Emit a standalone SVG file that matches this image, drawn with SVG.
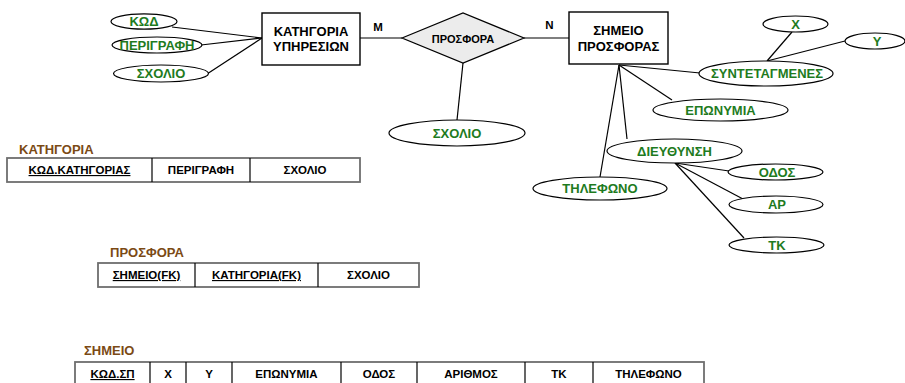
<svg xmlns="http://www.w3.org/2000/svg" width="905" height="383" viewBox="0 0 905 383">
<style>
text{font-family:"Liberation Sans",Arial,sans-serif;font-weight:bold;text-anchor:middle}
.ent{fill:#fff;stroke:#000;stroke-width:1.4}
.att{fill:#fff;stroke:#000;stroke-width:1.2}
.at{fill:#1e7b1e;font-size:13px}
.et{fill:#000;font-size:13px}
.ln{stroke:#000;stroke-width:1.2;fill:none}
.tb{fill:#fff;stroke:#6e6e6e;stroke-width:1.8}
.dv{stroke:#000;stroke-width:1.2}
.tt{fill:#000;font-size:11.5px}
.u{text-decoration:underline}
.hd{fill:#7b4a15;font-size:13px;text-anchor:start}
</style>
<g id="connectors">
<line class="ln" x1="172" y1="27" x2="262" y2="38"/>
<line class="ln" x1="201" y1="45" x2="262" y2="38"/>
<line class="ln" x1="207" y1="74" x2="262" y2="38"/>
<line class="ln" x1="360" y1="38" x2="402" y2="38"/>
<line class="ln" x1="524" y1="38" x2="569" y2="38"/>
<line class="ln" x1="463" y1="63" x2="457" y2="120"/>
<line class="ln" x1="619" y1="65" x2="700" y2="73"/>
<line class="ln" x1="619" y1="65" x2="672" y2="100"/>
<line class="ln" x1="619" y1="65" x2="627" y2="139"/>
<line class="ln" x1="619" y1="65" x2="600" y2="177"/>
<line class="ln" x1="792" y1="32" x2="767" y2="61"/>
<line class="ln" x1="845" y1="41" x2="767" y2="61"/>
<line class="ln" x1="675" y1="163" x2="729" y2="171"/>
<line class="ln" x1="675" y1="163" x2="743" y2="199"/>
<line class="ln" x1="675" y1="163" x2="744" y2="238"/>
</g>
<g id="kod"><ellipse class="att" cx="144" cy="21.5" rx="33" ry="7.7"/><text class="at" x="144" y="26">ΚΩΔ</text></g>
<g id="perigrafi"><ellipse class="att" cx="157" cy="45" rx="45" ry="8"/><text class="at" x="157" y="49.5">ΠΕΡΙΓΡΑΦΗ</text></g>
<g id="sxolio1"><ellipse class="att" cx="161" cy="73.5" rx="47.5" ry="8.5"/><text class="at" x="161" y="78">ΣΧΟΛΙΟ</text></g>
<g id="kategoria"><rect class="ent" x="262" y="13" width="98" height="52"/><text class="et" x="311" y="36">ΚΑΤΗΓΟΡΙΑ</text><text class="et" x="311" y="51">ΥΠΗΡΕΣΙΩΝ</text></g>
<g id="m-label"><text class="et" x="378" y="31" style="font-size:11.5px">M</text></g>
<g id="prosfora"><polygon points="402,38 463,13 524,38 463,63" fill="#ececec" stroke="#000" stroke-width="1.2"/><text class="et" x="463" y="42.5" style="font-size:11px">ΠΡΟΣΦΟΡΑ</text></g>
<g id="n-label"><text class="et" x="549.5" y="29" style="font-size:11.5px">N</text></g>
<g id="simeio"><rect class="ent" x="569" y="12" width="99" height="52"/><text class="et" x="618.5" y="35">ΣΗΜΕΙΟ</text><text class="et" x="618.5" y="51">ΠΡΟΣΦΟΡΑΣ</text></g>
<g id="sxolio2"><ellipse class="att" cx="457" cy="133" rx="68" ry="13"/><text class="at" x="457" y="137.5">ΣΧΟΛΙΟ</text></g>
<g id="x"><ellipse class="att" cx="795.5" cy="24" rx="32.5" ry="8"/><text class="at" x="795.5" y="28.5">X</text></g>
<g id="y"><ellipse class="att" cx="875" cy="41" rx="30" ry="8"/><text class="at" x="877" y="45.5">Y</text></g>
<g id="syntetagmenes"><ellipse class="att" cx="766" cy="73.5" rx="67" ry="12.5"/><text class="at" x="767" y="78">ΣΥΝΤΕΤΑΓΜΕΝΕΣ</text></g>
<g id="eponymia"><ellipse class="att" cx="720.5" cy="110" rx="67.5" ry="11"/><text class="at" x="720.5" y="114.5">ΕΠΩΝΥΜΙΑ</text></g>
<g id="dieythynsi"><ellipse class="att" cx="674.5" cy="151" rx="67.5" ry="12"/><text class="at" x="674.5" y="155.5">ΔΙΕΥΘΥΝΣΗ</text></g>
<g id="tilefono"><ellipse class="att" cx="600" cy="188.5" rx="67" ry="11.5"/><text class="at" x="600" y="193">ΤΗΛΕΦΩΝΟ</text></g>
<g id="odos"><ellipse class="att" cx="775.5" cy="172" rx="47.5" ry="8"/><text class="at" x="777" y="176.5">ΟΔΟΣ</text></g>
<g id="ar"><ellipse class="att" cx="776" cy="204.5" rx="47" ry="8.5"/><text class="at" x="777" y="209">ΑΡ</text></g>
<g id="tk"><ellipse class="att" cx="776.5" cy="245" rx="47.5" ry="8"/><text class="at" x="777" y="249.5">ΤΚ</text></g>
<g id="table-kategoria">
<text class="hd" x="19" y="154">ΚΑΤΗΓΟΡΙΑ</text>
<rect class="tb" x="7" y="158" width="353" height="24"/>
<line class="dv" x1="152" y1="158" x2="152" y2="182"/><line class="dv" x1="250" y1="158" x2="250" y2="182"/>
<text class="tt u" x="79.5" y="174">ΚΩΔ.ΚΑΤΗΓΟΡΙΑΣ</text>
<text class="tt" x="201" y="174">ΠΕΡΙΓΡΑΦΗ</text>
<text class="tt" x="305" y="174">ΣΧΟΛΙΟ</text>
</g>
<g id="table-prosfora">
<text class="hd" x="110" y="257">ΠΡΟΣΦΟΡΑ</text>
<rect class="tb" x="98" y="263" width="321" height="24"/>
<line class="dv" x1="195" y1="263" x2="195" y2="287"/><line class="dv" x1="318" y1="263" x2="318" y2="287"/>
<text class="tt u" x="146.5" y="279">ΣΗΜΕΙΟ(FK)</text>
<text class="tt u" x="256.5" y="279">ΚΑΤΗΓΟΡΙΑ(FK)</text>
<text class="tt" x="368.5" y="279">ΣΧΟΛΙΟ</text>
</g>
<g id="table-simeio">
<text class="hd" x="84" y="355">ΣΗΜΕΙΟ</text>
<rect class="tb" x="75" y="362" width="629" height="26"/>
<line class="dv" x1="150" y1="362" x2="150" y2="388"/><line class="dv" x1="186" y1="362" x2="186" y2="388"/>
<line class="dv" x1="232" y1="362" x2="232" y2="388"/><line class="dv" x1="341" y1="362" x2="341" y2="388"/>
<line class="dv" x1="417" y1="362" x2="417" y2="388"/><line class="dv" x1="525" y1="362" x2="525" y2="388"/>
<line class="dv" x1="593" y1="362" x2="593" y2="388"/>
<text class="tt u" x="112.5" y="378">ΚΩΔ.ΣΠ</text>
<text class="tt" x="168" y="378">X</text>
<text class="tt" x="209" y="378">Y</text>
<text class="tt" x="286.5" y="378">ΕΠΩΝΥΜΙΑ</text>
<text class="tt" x="379" y="378">ΟΔΟΣ</text>
<text class="tt" x="471" y="378">ΑΡΙΘΜΟΣ</text>
<text class="tt" x="559" y="378">ΤΚ</text>
<text class="tt" x="648.5" y="378">ΤΗΛΕΦΩΝΟ</text>
</g>
</svg>
